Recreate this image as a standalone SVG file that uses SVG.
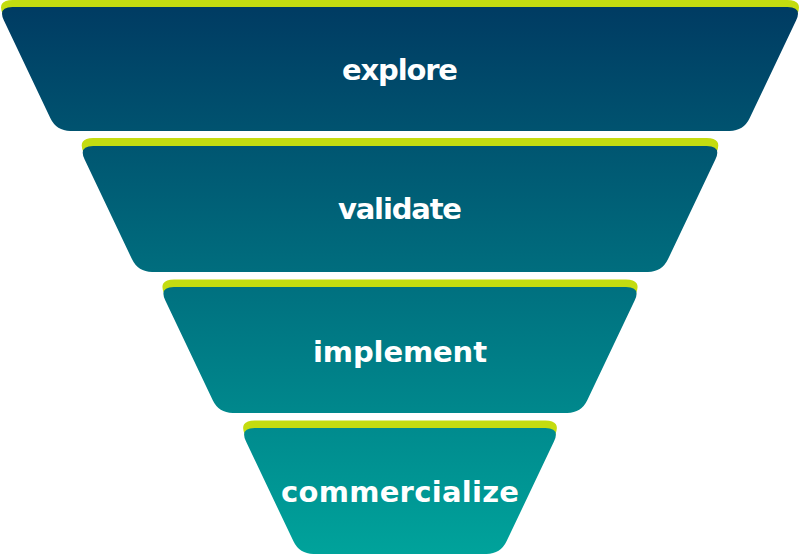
<svg xmlns="http://www.w3.org/2000/svg" width="800" height="555" viewBox="0 0 800 555">
<defs>
<linearGradient id="funnelGrad" gradientUnits="userSpaceOnUse" x1="0" y1="0" x2="0" y2="555">
<stop offset="0" stop-color="#003a62"/>
<stop offset="1" stop-color="#00a39b"/>
</linearGradient>
<style>
.rim{fill:#c4dc10;stroke:#c4dc10;stroke-width:2;stroke-linejoin:round}
.body{fill:url(#funnelGrad)}
.lbl{font-family:"DejaVu Sans","Liberation Sans",sans-serif;font-weight:bold;font-size:29px;fill:#ffffff;text-anchor:middle}
</style>
</defs>
<rect width="800" height="555" fill="#ffffff"/>
<g id="explore">
<path class="rim" transform="translate(0,-6)" d="M 12.5,7 L 787.5,7 Q 802.5,7 796.06,20.55 L 749.6,118.36 Q 743.6,131 729.6,131 L 70.4,131 Q 56.4,131 50.4,118.36 L 3.94,20.55 Q -2.5,7 12.5,7 Z"/>
<path class="body" d="M 12.5,7 L 787.5,7 Q 802.5,7 796.06,20.55 L 749.6,118.36 Q 743.6,131 729.6,131 L 70.4,131 Q 56.4,131 50.4,118.36 L 3.94,20.55 Q -2.5,7 12.5,7 Z"/>
<text class="lbl" x="400" y="80" textLength="116">explore</text>
</g>
<g id="validate">
<path class="rim" transform="translate(0,-7)" d="M 93.2,146 L 706.8,146 Q 721.8,146 715.36,159.55 L 667.95,259.36 Q 661.95,272 647.95,272 L 152.05,272 Q 138.05,272 132.05,259.36 L 84.64,159.55 Q 78.2,146 93.2,146 Z"/>
<path class="body" d="M 93.2,146 L 706.8,146 Q 721.8,146 715.36,159.55 L 667.95,259.36 Q 661.95,272 647.95,272 L 152.05,272 Q 138.05,272 132.05,259.36 L 84.64,159.55 Q 78.2,146 93.2,146 Z"/>
<text class="lbl" x="400" y="219" textLength="124">validate</text>
</g>
<g id="implement">
<path class="rim" transform="translate(0,-6.5)" d="M 173.9,287 L 626.1,287 Q 641.1,287 634.66,300.55 L 587.25,400.36 Q 581.25,413 567.25,413 L 232.75,413 Q 218.75,413 212.75,400.36 L 165.34,300.55 Q 158.9,287 173.9,287 Z"/>
<path class="body" d="M 173.9,287 L 626.1,287 Q 641.1,287 634.66,300.55 L 587.25,400.36 Q 581.25,413 567.25,413 L 232.75,413 Q 218.75,413 212.75,400.36 L 165.34,300.55 Q 158.9,287 173.9,287 Z"/>
<text class="lbl" x="400" y="362" textLength="174">implement</text>
</g>
<g id="commercialize">
<path class="rim" transform="translate(0,-6.5)" d="M 254.6,428 L 545.4,428 Q 560.4,428 553.96,441.55 L 506.55,541.36 Q 500.55,554 486.55,554 L 313.45,554 Q 299.45,554 293.45,541.36 L 246.04,441.55 Q 239.6,428 254.6,428 Z"/>
<path class="body" d="M 254.6,428 L 545.4,428 Q 560.4,428 553.96,441.55 L 506.55,541.36 Q 500.55,554 486.55,554 L 313.45,554 Q 299.45,554 293.45,541.36 L 246.04,441.55 Q 239.6,428 254.6,428 Z"/>
<text class="lbl" x="400" y="502" textLength="238">commercialize</text>
</g>
</svg>
